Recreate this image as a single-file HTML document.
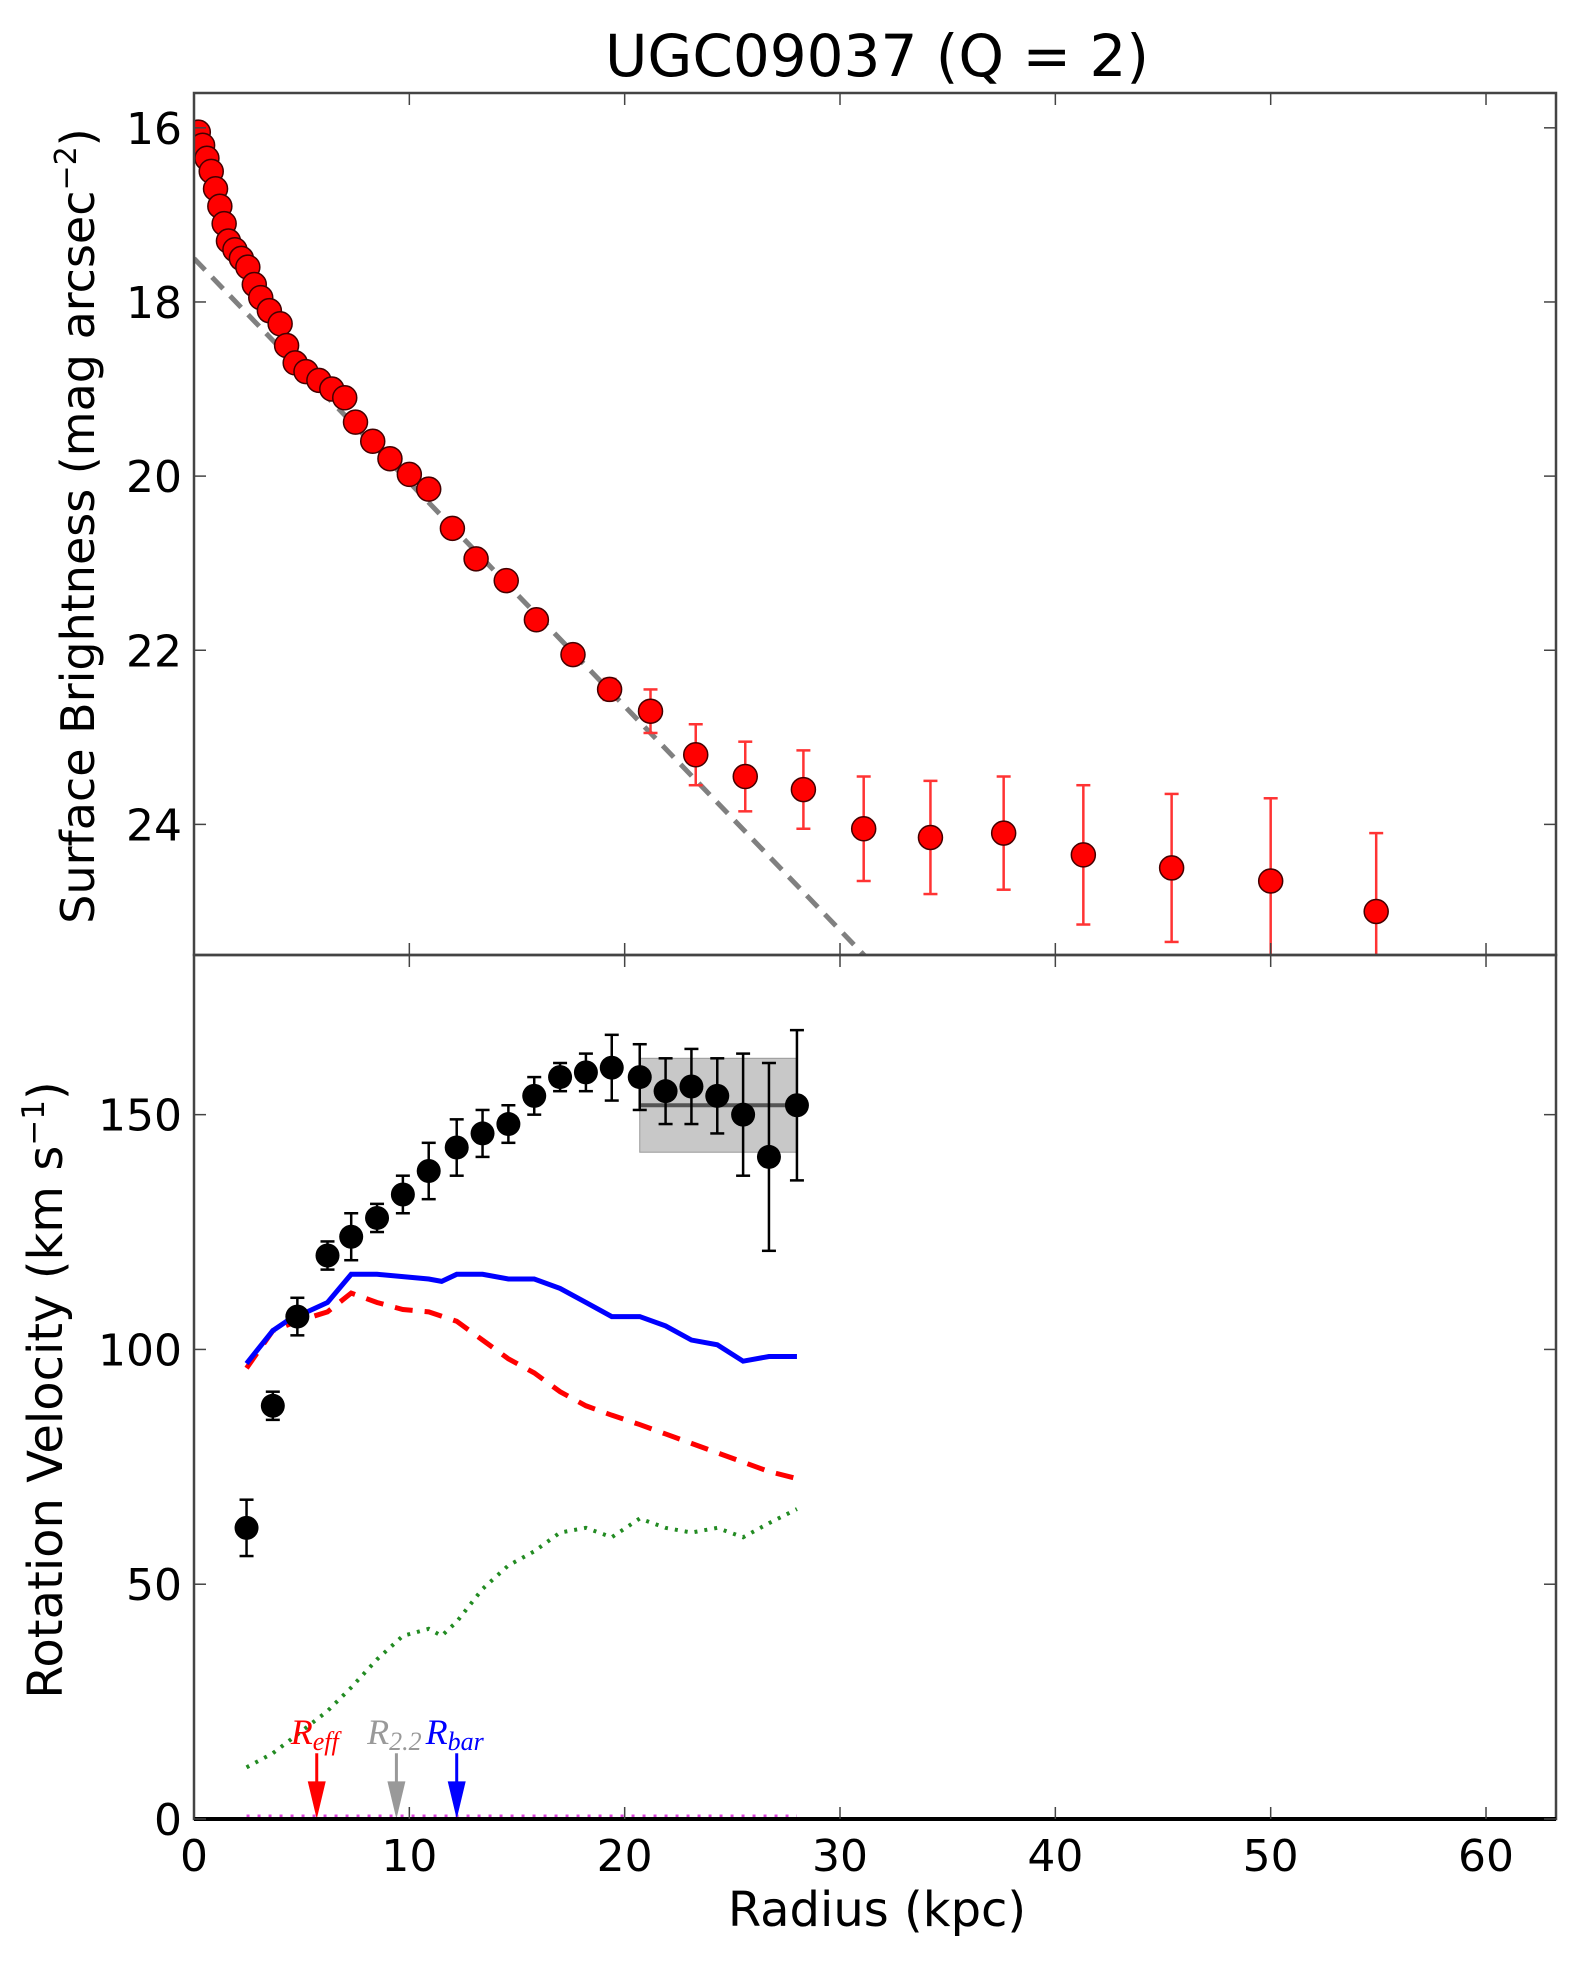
<!DOCTYPE html>
<html><head><meta charset="utf-8"><style>
html,body{margin:0;padding:0;background:#fff;}
svg{display:block;font-family:"DejaVu Sans","Liberation Sans",sans-serif;}
</style></head><body>
<svg id="c" width="1590" height="1964" viewBox="0 0 1590 1964" xmlns="http://www.w3.org/2000/svg"></svg>
<script>
// Top panel data (surface brightness)
const sbR = [0.2,0.4,0.6,0.8,1.0,1.2,1.4,1.6,1.9,2.2,2.5,2.8,3.1,3.5,4.0,4.3,4.7,5.2,5.8,6.4,7.0,7.5,8.3,9.1,10.0,10.9,12.0,13.1,14.5,15.9,17.6,19.3,21.2,23.3,25.6,28.3,31.1,34.2,37.6,41.3,45.4,50.0,54.9];
const sbMu = [16.05,16.2,16.35,16.5,16.7,16.9,17.1,17.3,17.4,17.5,17.6,17.8,17.95,18.1,18.25,18.5,18.7,18.8,18.9,19.0,19.1,19.38,19.6,19.8,19.98,20.15,20.6,20.95,21.2,21.65,22.05,22.45,22.7,23.2,23.45,23.6,24.05,24.15,24.1,24.35,24.5,24.65,25.0];
const sbErr = [0,0,0,0,0,0,0,0,0,0,0,0,0,0,0,0,0,0,0,0,0,0,0,0,0,0,0,0,0,0,0.05,0.12,0.25,0.35,0.4,0.45,0.6,0.65,0.65,0.8,0.85,0.95,0.9];
const fitR = [0,31.5];
const fitMu = [17.5,25.6];
const sbTicks = [16,18,20,22,24];
// Bottom panel data (rotation velocity)
const vR = [2.44,3.66,4.8,6.2,7.3,8.5,9.7,10.9,12.2,13.4,14.6,15.8,17.0,18.2,19.4,20.7,21.9,23.1,24.3,25.5,26.7,28.0];
const vV = [62,88,107,120,124,128,133,138,143,146,148,154,158,159,160,158,155,156,154,150,141,152];
const vErr = [6,3,4,3,5,3,4,6,6,5,4,4,3,4,7,7,7,8,8,13,20,16];
const blueR = [2.44,3.66,4.3,6.2,7.3,8.5,9.7,10.9,11.5,12.2,13.4,14.6,15.8,17.0,18.2,19.4,20.7,21.9,23.1,24.3,25.5,26.7,28.0];
const blueV = [97,104,106,110,116,116,115.5,115,114.5,116,116,115,115,113,110,107,107,105,102,101,97.5,98.5,98.5];
const redR = [2.44,3.66,4.8,6.2,7.3,8.5,9.7,10.9,12.2,13.4,14.6,15.8,17.0,18.2,19.4,20.7,21.9,23.1,24.3,25.5,26.7,28.0];
const redV = [96,104,106,108,112,110,108.5,108,106,102,98,95,91,88,86,84,82,80,78,76,74,72.5];
const greenR = [2.44,3.66,4.8,6.2,7.3,8.5,9.7,10.9,11.5,12.2,13.4,14.6,15.8,17.0,18.2,19.4,20.7,21.9,23.1,24.3,25.5,26.7,28.0];
const greenV = [11,14,18,23,28,34,39,40.5,39,42,49,54,57,61,62,60,64,62,61,62,60,63,66];
const boxR = [20.7,28.0];
const boxV = [142,152,162];
const markR = [5.7,9.4,12.2];
const markLbl = ["eff","2.2","bar"];
const markCol = ["#ff0000","#999999","#0000ff"];
const vTicks = [0,50,100,150];
const xTicks = [0,10,20,30,40,50,60];

const NS="http://www.w3.org/2000/svg";
const svg=document.getElementById('c');
function mk(t,a,p){const e=document.createElementNS(NS,t);for(const k in a)e.setAttribute(k,a[k]);(p||svg).appendChild(e);return e;}
const L=194,R=1556,T=93,M=955,B=1819;
const X=r=>L+(R-L)*r/63.25;
const Y1=m=>T+(M-T)*(m-15.6)/(25.5-15.6);
const Y2=v=>B-(B-M)*v/184;

const defs=mk('defs',{});
const c1=mk('clipPath',{id:'cp1'},defs);mk('rect',{x:L,y:T,width:R-L,height:M-T},c1);
const c2=mk('clipPath',{id:'cp2'},defs);mk('rect',{x:L,y:M,width:R-L,height:B-M+6},c2);

let t=mk('text',{x:877,y:76,'font-size':58,'text-anchor':'middle',fill:'#000'});t.textContent='UGC09037 (Q = 2)';



const g1=mk('g',{'clip-path':'url(#cp1)'});


let fl=mk('line',{x1:X(fitR[0]),y1:Y1(fitMu[0]),x2:X(fitR[1]),y2:Y1(fitMu[1]),stroke:'#808080','stroke-width':5,'stroke-dasharray':'16,10'},g1);


for(let i=0;i<sbR.length;i++){
  if(sbErr[i]>0){const e=mk('line',{x1:X(sbR[i]),x2:X(sbR[i]),y1:Y1(sbMu[i]-sbErr[i]),y2:Y1(sbMu[i]+sbErr[i]),stroke:'#ff3333','stroke-width':2.5},g1);
    
    
    [-1,1].forEach(s=>{mk('line',{x1:X(sbR[i])-7,x2:X(sbR[i])+7,y1:Y1(sbMu[i]+s*sbErr[i]),y2:Y1(sbMu[i]+s*sbErr[i]),stroke:'#ff3333','stroke-width':2.5},g1);});}
}
for(let i=0;i<sbR.length;i++){
  const c=mk('circle',{cx:X(sbR[i]),cy:Y1(sbMu[i]),r:12,fill:'#ff0000',stroke:'#400','stroke-width':1.5},g1);
  
  
}

const g2=mk('g',{'clip-path':'url(#cp2)'});


const bx=mk('rect',{x:X(boxR[0]),y:Y2(boxV[2]),width:X(boxR[1])-X(boxR[0]),height:Y2(boxV[0])-Y2(boxV[2]),fill:'#c8c8c8',stroke:'#999','stroke-width':1},g2);


mk('line',{x1:X(boxR[0]),x2:X(boxR[1]),y1:Y2(boxV[1]),y2:Y2(boxV[1]),stroke:'#555','stroke-width':4},g2);
function poly(rs,vs,attrs,name){const p=mk('polyline',Object.assign({points:rs.map((r,i)=>X(r)+','+Y2(vs[i])).join(' '),fill:'none'},attrs),g2);
  
  }
poly(greenR,greenV,{stroke:'#228b22','stroke-width':4,'stroke-dasharray':'3,7'},'halo-curve');
poly(redR,redV,{stroke:'#ff0000','stroke-width':5,'stroke-dasharray':'18,12'},'disk-curve');
poly(blueR,blueV,{stroke:'#0000ff','stroke-width':5},'baryon-curve');
const mag=mk('line',{x1:X(vR[0]),x2:X(vR[vR.length-1]),y1:Y2(0)-3,y2:Y2(0)-3,stroke:'#dd44dd','stroke-width':3,'stroke-dasharray':'3,8'},g2);


for(let i=0;i<vR.length;i++){
  const x=X(vR[i]);
  const e=mk('line',{x1:x,x2:x,y1:Y2(vV[i]-vErr[i]),y2:Y2(vV[i]+vErr[i]),stroke:'#000','stroke-width':2.5},g2);
  
  
  [-1,1].forEach(s=>{mk('line',{x1:x-7,x2:x+7,y1:Y2(vV[i]+s*vErr[i]),y2:Y2(vV[i]+s*vErr[i]),stroke:'#000','stroke-width':2.5},g2);});
  const c=mk('circle',{cx:x,cy:Y2(vV[i]),r:12,fill:'#000'},g2);
  
  
}
for(let i=0;i<markR.length;i++){
  const x=X(markR[i]);
  const g=mk('g',{});
  
  
  mk('line',{x1:x,x2:x,y1:Y2(14),y2:Y2(4),stroke:markCol[i],'stroke-width':3},g);
  const pg=mk('polygon',{points:(x-9)+','+Y2(8)+' '+(x+9)+','+Y2(8)+' '+x+','+Y2(0)},g);
  pg.setAttribute('fill',markCol[i]);
  const tx=mk('text',{x:x-2,y:Y2(16),'font-size':36,'font-family':'"Liberation Serif",serif','font-style':'italic','text-anchor':'middle',fill:markCol[i]},g);
  tx.textContent='R';
  const s=mk('tspan',{'font-size':26,dy:6},tx);s.textContent=markLbl[i];
}

[[T,M],[M,B]].forEach(([a,b],k)=>{const f=mk('rect',{x:L,y:a,width:R-L,height:b-a,fill:'none',stroke:'#444','stroke-width':2.5});
  
  });
mk('line',{x1:L,x2:R,y1:B,y2:B,stroke:'#000','stroke-width':4});
xTicks.forEach(v=>{const x=X(v);
  mk('line',{x1:x,x2:x,y1:T,y2:T+12,stroke:'#444','stroke-width':1.5});
  mk('line',{x1:x,x2:x,y1:M-12,y2:M,stroke:'#444','stroke-width':1.5});
  mk('line',{x1:x,x2:x,y1:M,y2:M+12,stroke:'#444','stroke-width':1.5});
  mk('line',{x1:x,x2:x,y1:B-12,y2:B,stroke:'#444','stroke-width':1.5});
  const tt=mk('text',{x:x,y:B+52,'font-size':44,'text-anchor':'middle'});tt.textContent=v;
  
  });
sbTicks.forEach(v=>{const y=Y1(v);
  mk('line',{x1:L,x2:L+12,y1:y,y2:y,stroke:'#444','stroke-width':1.5});
  mk('line',{x1:R-12,x2:R,y1:y,y2:y,stroke:'#444','stroke-width':1.5});
  const tt=mk('text',{x:L-12,y:y+16,'font-size':44,'text-anchor':'end'});tt.textContent=v;
  
  });
vTicks.forEach(v=>{const y=Y2(v);
  mk('line',{x1:L,x2:L+12,y1:y,y2:y,stroke:'#444','stroke-width':1.5});
  mk('line',{x1:R-12,x2:R,y1:y,y2:y,stroke:'#444','stroke-width':1.5});
  const tt=mk('text',{x:L-12,y:y+16,'font-size':44,'text-anchor':'end'});tt.textContent=v;
  
  });
let xl=mk('text',{x:877,y:1926,'font-size':48,'text-anchor':'middle'});xl.textContent='Radius (kpc)';


let y1=mk('text',{x:0,y:0,'font-size':46,'text-anchor':'middle',transform:'translate(94,526) rotate(-90)'});
y1.textContent='Surface Brightness (mag arcsec';
let sp=mk('tspan',{'font-size':30,dy:-18},y1);sp.textContent='−2';
let sp2=mk('tspan',{dy:18},y1);sp2.textContent=')';


let y2=mk('text',{x:0,y:0,'font-size':48,'text-anchor':'middle',transform:'translate(62,1390) rotate(-90)'});
y2.textContent='Rotation Velocity (km s';
let sq=mk('tspan',{'font-size':31,dy:-18},y2);sq.textContent='−1';
let sq2=mk('tspan',{dy:18},y2);sq2.textContent=')';


</script>
</body></html>
